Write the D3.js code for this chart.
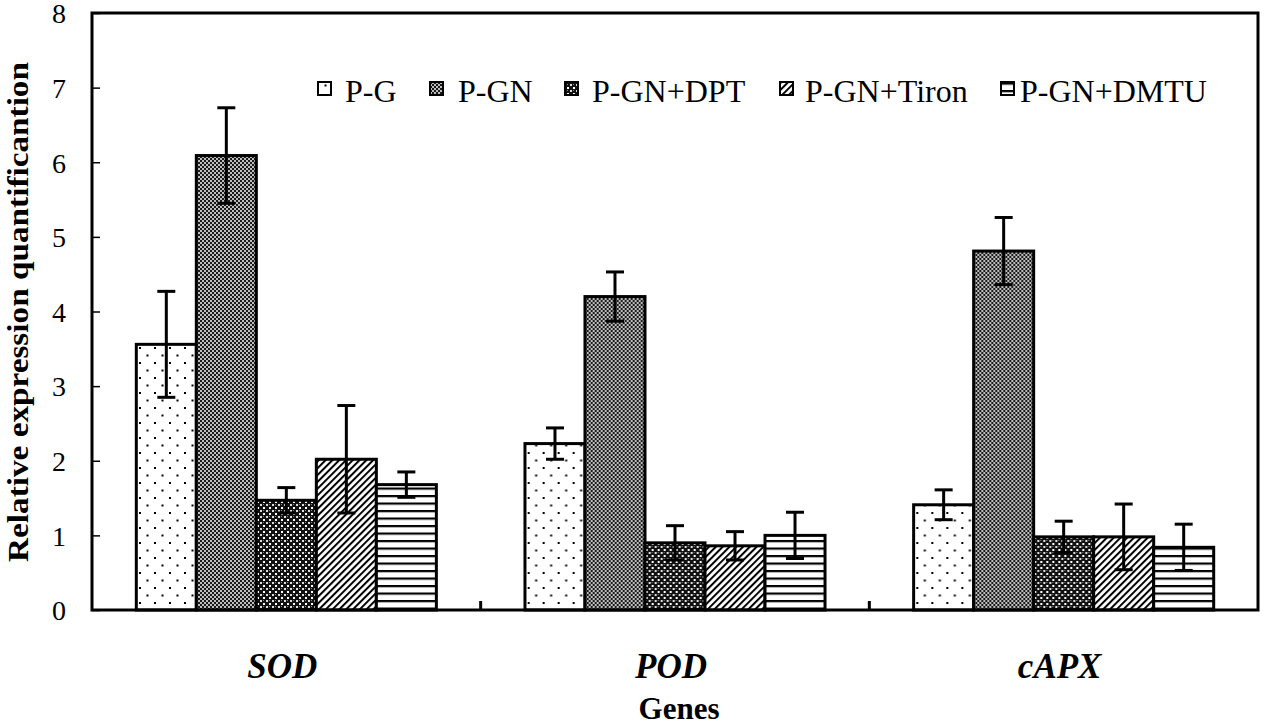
<!DOCTYPE html>
<html lang="en">
<head>
  <meta charset="UTF-8" />
  <title>Relative expression of SOD, POD, cAPX</title>
  <script src="https://d3js.org/d3.v7.min.js"></script>
  <style>
    body { margin: 0; background: #fff; }
    svg { display: block; }
  </style>
</head>
<body>
<svg width="1267" height="727"></svg>
<script>
  // data
  const genes = ["SOD", "POD", "cAPX"];
  const series = ["P-G", "P-GN", "P-GN+DPT", "P-GN+Tiron", "P-GN+DMTU"];
  const meanPG    = [3.56, 2.23, 1.41];
  const meanPGN   = [6.09, 4.20, 4.81];
  const meanDPT   = [1.47, 0.90, 0.98];
  const meanTiron = [2.02, 0.86, 0.98];
  const meanDMTU  = [1.68, 1.00, 0.84];
  const errPG    = [0.71, 0.21, 0.20];
  const errPGN   = [0.64, 0.33, 0.45];
  const errDPT   = [0.17, 0.23, 0.21];
  const errTiron = [0.72, 0.19, 0.44];
  const errDMTU  = [0.17, 0.31, 0.31];
  const yTicks = [0, 1, 2, 3, 4, 5, 6, 7, 8];

  const means = [meanPG, meanPGN, meanDPT, meanTiron, meanDMTU];
  const errs = [errPG, errPGN, errDPT, errTiron, errDMTU];

  const FONT = '"Liberation Serif"';
  const svg = d3.select("svg");
  const plotL = 92, plotR = 1258, plotT = 13, plotB = 610;

  const x0 = d3.scaleBand().domain(genes).range([plotL, plotR]);
  const bw = x0.bandwidth();
  const x1 = d3.scaleBand().domain(series).range([bw * 0.114, bw * 0.886]);
  const y = d3.scaleLinear().domain([0, 8]).range([plotB, plotT]);

  // fill patterns
  const defs = svg.append("defs");
  const pats = ["pg", "pgn", "dpt", "tiron", "dmtu"];

  let p = defs.append("pattern").attr("id", "pg").attr("patternUnits", "userSpaceOnUse")
    .attr("width", 15).attr("height", 15);
  p.append("rect").attr("width", 15).attr("height", 15).attr("fill", "#fff");
  p.append("rect").attr("x", 2).attr("y", 2).attr("width", 2).attr("height", 2).attr("fill", "#000");
  p.append("rect").attr("x", 9.5).attr("y", 9.5).attr("width", 2).attr("height", 2).attr("fill", "#000");

  p = defs.append("pattern").attr("id", "pgn").attr("patternUnits", "userSpaceOnUse")
    .attr("width", 4).attr("height", 4);
  p.append("rect").attr("width", 4).attr("height", 4).attr("fill", "#bdbdbd");
  p.append("rect").attr("width", 2).attr("height", 2).attr("fill", "#1a1a1a");
  p.append("rect").attr("x", 2).attr("y", 2).attr("width", 2).attr("height", 2).attr("fill", "#1a1a1a");

  p = defs.append("pattern").attr("id", "dpt").attr("patternUnits", "userSpaceOnUse")
    .attr("width", 6).attr("height", 6);
  p.append("rect").attr("width", 6).attr("height", 6).attr("fill", "#111");
  p.append("rect").attr("x", 0).attr("y", 0).attr("width", 2).attr("height", 2).attr("fill", "#ddd");
  p.append("rect").attr("x", 3).attr("y", 3).attr("width", 2).attr("height", 2).attr("fill", "#fff");
  p.append("rect").attr("x", 3).attr("y", 0).attr("width", 1).attr("height", 1).attr("fill", "#888");

  p = defs.append("pattern").attr("id", "tiron").attr("patternUnits", "userSpaceOnUse")
    .attr("width", 4.8).attr("height", 4.8).attr("patternTransform", "rotate(45)");
  p.append("rect").attr("width", 4.8).attr("height", 4.8).attr("fill", "#fff");
  p.append("rect").attr("width", 2).attr("height", 4.8).attr("fill", "#000");

  p = defs.append("pattern").attr("id", "dmtu").attr("patternUnits", "userSpaceOnUse")
    .attr("width", 10).attr("height", 7.5);
  p.append("rect").attr("width", 10).attr("height", 7.5).attr("fill", "#fff");
  p.append("rect").attr("y", 0).attr("width", 10).attr("height", 2.2).attr("fill", "#000");

  // bars
  const groups = svg.selectAll("g.gene").data(genes).enter().append("g")
    .attr("class", "gene")
    .attr("transform", d => `translate(${x0(d)},0)`);

  series.forEach((s, si) => {
    groups.append("rect")
      .attr("x", x1(s))
      .attr("y", (d, gi) => y(means[si][gi]))
      .attr("width", x1.bandwidth())
      .attr("height", (d, gi) => plotB - y(means[si][gi]))
      .attr("fill", `url(#${pats[si]})`)
      .attr("stroke", "#000")
      .attr("stroke-width", 3);
  });

  // error bars
  series.forEach((s, si) => {
    const cx = x1(s) + x1.bandwidth() / 2;
    groups.each(function (d, gi) {
      const g = d3.select(this);
      const hi = y(means[si][gi] + errs[si][gi]);
      const lo = y(means[si][gi] - errs[si][gi]);
      g.append("line").attr("x1", cx).attr("x2", cx).attr("y1", hi).attr("y2", lo)
        .attr("stroke", "#000").attr("stroke-width", 3);
      [hi, lo].forEach(v => g.append("line").attr("x1", cx - 9).attr("x2", cx + 9)
        .attr("y1", v).attr("y2", v).attr("stroke", "#000").attr("stroke-width", 3));
    });
  });

  // frame
  svg.append("rect").attr("x", plotL).attr("y", plotT).attr("width", plotR - plotL)
    .attr("height", plotB - plotT).attr("fill", "none").attr("stroke", "#000").attr("stroke-width", 3);

  // y axis (inward ticks)
  const yAxis = svg.append("g").attr("transform", `translate(${plotL},0)`)
    .call(d3.axisLeft(y).tickValues(yTicks).tickSize(-8).tickPadding(26).tickFormat(d3.format("d")));
  yAxis.attr("font-family", null);
  yAxis.select(".domain").remove();
  yAxis.selectAll("line").attr("stroke-width", 1.5);
  yAxis.selectAll("text").attr("font-size", 28).attr("dy", "0.35em")
    .style("font-family", FONT).attr("fill", "#000");

  // group separators on x axis
  svg.selectAll("line.sep").data(genes.slice(1)).enter().append("line")
    .attr("class", "sep")
    .attr("x1", d => x0(d)).attr("x2", d => x0(d))
    .attr("y1", plotB).attr("y2", plotB - 9)
    .attr("stroke", "#000").attr("stroke-width", 3);

  // gene labels
  svg.selectAll("text.gene").data(genes).enter().append("text")
    .attr("x", d => x0(d) + bw / 2 - 4)
    .attr("y", 678)
    .attr("text-anchor", "middle")
    .attr("font-size", 35).attr("font-weight", "bold").attr("font-style", "italic")
    .style("font-family", FONT)
    .text(d => d);

  svg.append("text").attr("x", 679).attr("y", 719).attr("text-anchor", "middle")
    .attr("font-size", 31).attr("font-weight", "bold").style("font-family", FONT).text("Genes");

  svg.append("text").attr("transform", "translate(28,312) rotate(-90)")
    .attr("text-anchor", "middle").attr("font-size", 30).attr("font-weight", "bold")
    .attr("textLength", 500).attr("lengthAdjust", "spacingAndGlyphs")
    .style("font-family", FONT)
    .text("Relative expression quantificantion");

  // legend
  const legSq = [318, 430, 565, 780, 1001];
  const legTx = [345, 458, 592, 805, 1020];
  const leg = svg.append("g");
  series.forEach((s, i) => {
    leg.append("rect").attr("x", legSq[i]).attr("y", 82).attr("width", 13).attr("height", 13)
      .attr("fill", `url(#${pats[i]})`).attr("stroke", "#000").attr("stroke-width", 2);
    leg.append("text").attr("x", legTx[i]).attr("y", 102)
      .attr("font-size", 32).style("font-family", FONT).text(s);
  });
</script>
</body>
</html>
